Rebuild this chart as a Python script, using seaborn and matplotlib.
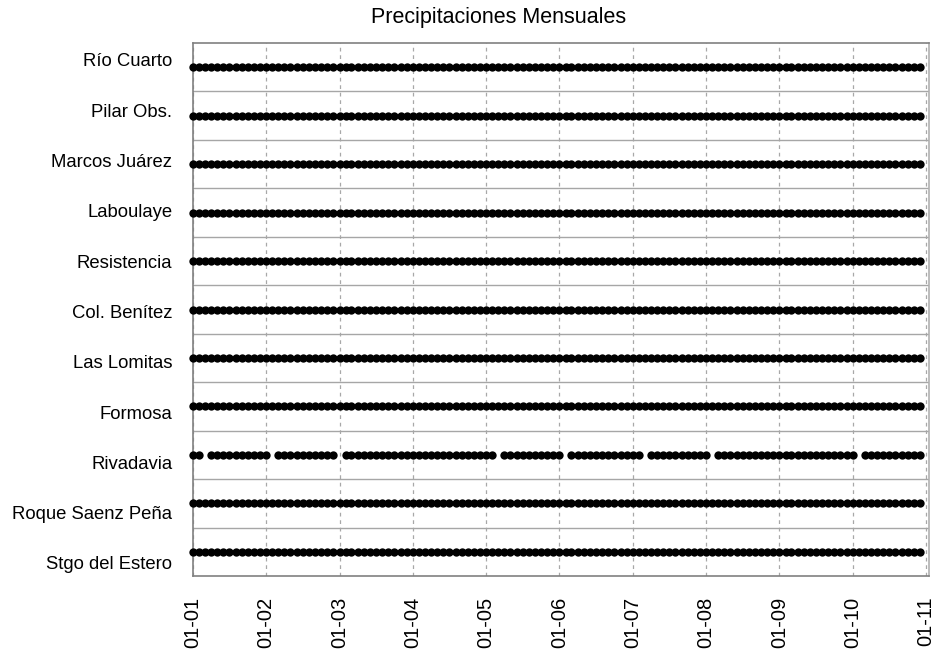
"""Monthly precipitation records available per station (2001-2010)."""

import matplotlib

matplotlib.use("Agg")
import matplotlib.dates as mdates
import matplotlib.pyplot as plt
import numpy as np
import pandas as pd
import seaborn as sns

# stations, top to bottom
STATIONS = [
    "Río Cuarto",
    "Pilar Obs.",
    "Marcos Juárez",
    "Laboulaye",
    "Resistencia",
    "Col. Benítez",
    "Las Lomitas",
    "Formosa",
    "Rivadavia",
    "Roque Saenz Peña",
    "Stgo del Estero",
]
FIRST_MONTH = "2001-01"
LAST_MONTH = "2010-12"
# months without a record
MISSING = {
    "Rivadavia": ["2001-03", "2002-02", "2003-01", "2005-03",
                  "2006-02", "2007-03", "2008-02", "2010-02"],
}


def build_frame():
    months = pd.period_range(FIRST_MONTH, LAST_MONTH, freq="M")
    rows = []
    n = len(STATIONS)
    for i, station in enumerate(STATIONS):
        missing = set(MISSING.get(station, []))
        for month in months:
            if str(month) in missing:
                continue
            rows.append({"estacion": station,
                         "fila": n - 1 - i + 0.5,
                         "fecha": month.to_timestamp()})
    return pd.DataFrame(rows)


def main():
    sns.set_style("white")
    plt.rcParams["font.family"] = ["Liberation Sans", "DejaVu Sans"]
    plt.rcParams["text.color"] = "black"

    df = build_frame()
    n = len(STATIONS)

    fig = plt.figure(figsize=(9.4, 6.6), dpi=100)
    ax = fig.add_axes([0.2053, 0.1273, 0.7830, 0.8075])

    sns.scatterplot(data=df, x="fecha", y="fila", color="black", s=36,
                    linewidth=0, legend=False, clip_on=False, zorder=3, ax=ax)

    ax.set_xlim(pd.Timestamp("2001-01-01"), pd.Timestamp("2011-01-16"))
    ax.set_ylim(0, n)

    ax.xaxis.set_major_locator(mdates.YearLocator(1, month=1, day=1))
    ax.xaxis.set_major_formatter(mdates.DateFormatter("%m-%y"))
    ax.tick_params(axis="x", length=0, pad=15, labelsize=14.5,
                   labelrotation=90, colors="black")
    ax.grid(axis="x", which="major", color="#a8a8a8", linestyle=(0, (3, 3)),
            linewidth=0.9)

    # horizontal separators between stations
    ax.set_yticks(np.arange(1, n), minor=True)
    ax.grid(axis="y", which="minor", color="#a6a6a6", linewidth=1.0)
    ax.grid(axis="y", which="major", visible=False)
    label_pos = np.linspace(0.27, 10.65, n)[::-1]
    ax.set_yticks(label_pos)
    ax.set_yticklabels(STATIONS)
    ax.tick_params(axis="y", which="both", length=0, pad=15, labelsize=13.3,
                   colors="black")

    for side in ["left", "bottom", "top", "right"]:
        ax.spines[side].set_color("#808080")
        ax.spines[side].set_linewidth(1.2)
    ax.spines["right"].set_color("#b0b0b0")

    ax.set_xlabel("")
    ax.set_ylabel("")
    fig.text(0.53, 1 - 18 / 660, "Precipitaciones Mensuales", fontsize=15.5,
             color="black", ha="center", va="center")

    fig.savefig("out.png", dpi=100)
    plt.close(fig)


if __name__ == "__main__":
    main()
